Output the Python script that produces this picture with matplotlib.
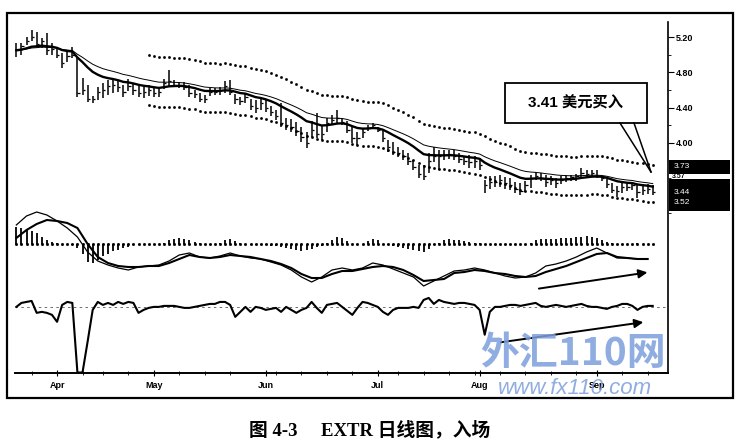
import numpy as np
import pandas as pd
import matplotlib
matplotlib.use("Agg")
import matplotlib.pyplot as plt
from matplotlib.patches import Rectangle

W, H = 737, 446

# trading days shown (US holidays removed)
holidays = ['2006-04-14', '2006-05-29', '2006-07-04', '2006-09-04']
dates = pd.bdate_range('2006-03-22', '2006-09-19')
dates = dates[~dates.isin(pd.to_datetime(holidays))]

high = [5.13, 5.13, 5.20, 5.28, 5.26, 5.19, 5.25, 5.13, 5.08, 5.02,
        5.03, 5.09, 4.96, 4.74, 4.66, 4.53, 4.63, 4.68, 4.71, 4.74,
        4.71, 4.66, 4.72, 4.67, 4.66, 4.63, 4.66, 4.62, 4.62, 4.72,
        4.83, 4.71, 4.69, 4.69, 4.66, 4.60, 4.57, 4.54, 4.62, 4.62,
        4.63, 4.70, 4.71, 4.55, 4.52, 4.57, 4.50, 4.49, 4.52, 4.49,
        4.42, 4.37, 4.45, 4.28, 4.27, 4.24, 4.18, 4.12, 4.25, 4.34,
        4.19, 4.28, 4.32, 4.37, 4.28, 4.25, 4.19, 4.12, 4.17, 4.20,
        4.23, 4.18, 4.15, 4.03, 4.01, 3.95, 3.92, 3.89, 3.81, 3.75,
        3.75, 3.89, 3.95, 3.92, 3.92, 3.92, 3.92, 3.89, 3.84, 3.86,
        3.85, 3.83, 3.58, 3.63, 3.63, 3.64, 3.61, 3.60, 3.56, 3.55,
        3.57, 3.64, 3.67, 3.66, 3.64, 3.63, 3.60, 3.63, 3.64, 3.64,
        3.65, 3.72, 3.69, 3.69, 3.69, 3.63, 3.59, 3.55, 3.51, 3.55,
        3.56, 3.56, 3.52, 3.53, 3.53, 3.52]
low = [4.97, 5.00, 5.11, 5.15, 5.09, 5.08, 5.00, 5.00, 4.96, 4.85,
       4.92, 4.96, 4.52, 4.54, 4.46, 4.45, 4.49, 4.51, 4.54, 4.57,
       4.58, 4.52, 4.59, 4.54, 4.52, 4.51, 4.53, 4.52, 4.52, 4.61,
       4.65, 4.63, 4.62, 4.60, 4.52, 4.51, 4.46, 4.45, 4.53, 4.54,
       4.54, 4.57, 4.54, 4.44, 4.43, 4.45, 4.37, 4.34, 4.37, 4.35,
       4.31, 4.26, 4.18, 4.15, 4.12, 4.08, 4.01, 3.94, 4.07, 4.06,
       4.03, 4.12, 4.21, 4.23, 4.20, 4.11, 4.00, 3.98, 4.06, 4.14,
       4.17, 4.12, 4.01, 3.90, 3.86, 3.84, 3.81, 3.75, 3.69, 3.60,
       3.58, 3.66, 3.78, 3.69, 3.81, 3.82, 3.81, 3.77, 3.75, 3.72,
       3.72, 3.69, 3.43, 3.48, 3.50, 3.50, 3.48, 3.47, 3.43, 3.41,
       3.44, 3.49, 3.58, 3.57, 3.50, 3.52, 3.49, 3.53, 3.56, 3.57,
       3.57, 3.60, 3.60, 3.61, 3.60, 3.57, 3.49, 3.43, 3.39, 3.43,
       3.46, 3.47, 3.38, 3.41, 3.42, 3.41]
close = [5.05, 5.10, 5.16, 5.20, 5.12, 5.15, 5.05, 5.06, 5.00, 4.90,
         4.98, 5.00, 4.56, 4.60, 4.50, 4.50, 4.58, 4.60, 4.65, 4.66,
         4.63, 4.58, 4.65, 4.60, 4.57, 4.58, 4.60, 4.57, 4.58, 4.68,
         4.70, 4.66, 4.66, 4.63, 4.57, 4.55, 4.50, 4.50, 4.58, 4.58,
         4.60, 4.64, 4.58, 4.50, 4.47, 4.52, 4.42, 4.40, 4.45, 4.40,
         4.35, 4.30, 4.22, 4.20, 4.18, 4.13, 4.07, 4.00, 4.15, 4.10,
         4.10, 4.22, 4.26, 4.28, 4.24, 4.15, 4.05, 4.05, 4.12, 4.17,
         4.20, 4.15, 4.05, 3.95, 3.90, 3.88, 3.85, 3.80, 3.73, 3.65,
         3.62, 3.80, 3.85, 3.85, 3.86, 3.87, 3.85, 3.82, 3.80, 3.78,
         3.80, 3.75, 3.52, 3.56, 3.56, 3.58, 3.54, 3.52, 3.48, 3.46,
         3.52, 3.60, 3.62, 3.60, 3.56, 3.58, 3.55, 3.58, 3.60, 3.61,
         3.62, 3.66, 3.65, 3.66, 3.63, 3.60, 3.53, 3.47, 3.45, 3.50,
         3.50, 3.52, 3.44, 3.47, 3.48, 3.44]

# MACD lines, read every second day
macd_line = [0.19, 0.28, 0.32, 0.29, 0.23, 0.16, 0.07, -0.08, -0.17, -0.21,
             -0.24, -0.26, -0.23, -0.22, -0.21, -0.17, -0.11, -0.09, -0.13, -0.14,
             -0.12, -0.09, -0.12, -0.14, -0.15, -0.18, -0.21, -0.26, -0.33, -0.38,
             -0.33, -0.26, -0.24, -0.26, -0.24, -0.19, -0.21, -0.25, -0.29, -0.33,
             -0.42, -0.37, -0.32, -0.27, -0.26, -0.24, -0.26, -0.29, -0.32, -0.34,
             -0.33, -0.29, -0.22, -0.20, -0.17, -0.13, -0.08, -0.04, -0.09, -0.14,
             -0.14, -0.15, -0.15]
macd_signal = [0.06, 0.14, 0.20, 0.24, 0.23, 0.21, 0.16, 0.00, -0.13, -0.19,
               -0.22, -0.23, -0.23, -0.22, -0.22, -0.19, -0.15, -0.11, -0.13, -0.14,
               -0.13, -0.11, -0.12, -0.13, -0.15, -0.17, -0.20, -0.24, -0.30, -0.34,
               -0.34, -0.30, -0.27, -0.27, -0.25, -0.23, -0.22, -0.23, -0.26, -0.31,
               -0.37, -0.36, -0.35, -0.29, -0.28, -0.26, -0.27, -0.29, -0.30, -0.32,
               -0.33, -0.32, -0.28, -0.25, -0.22, -0.18, -0.14, -0.10, -0.09, -0.13,
               -0.14, -0.15, -0.15]
macd_hist = [0.17, 0.16, 0.14, 0.13, 0.11, 0.07, 0.04, 0.02, 0.01, 0.00,
             0.00, -0.01, -0.04, -0.10, -0.18, -0.19, -0.16, -0.12, -0.10, -0.07,
             -0.06, -0.04, -0.03, -0.01, -0.01, 0.00, 0.00, 0.00, 0.00, 0.01,
             0.04, 0.05, 0.06, 0.05, 0.04, 0.02, 0.01, 0.00, -0.01, 0.00,
             0.01, 0.04, 0.05, 0.03, 0.01, 0.00, -0.01, -0.01, -0.01, -0.01,
             -0.02, -0.02, -0.03, -0.04, -0.05, -0.06, -0.07, -0.06, -0.05, -0.03,
             -0.02, 0.01, 0.04, 0.07, 0.06, 0.03, 0.00, -0.01, 0.00, 0.03,
             0.05, 0.04, 0.00, -0.01, -0.02, -0.03, -0.04, -0.05, -0.06, -0.07,
             -0.08, -0.05, -0.01, 0.01, 0.04, 0.05, 0.04, 0.04, 0.03, 0.02,
             0.01, 0.01, 0.00, 0.00, -0.01, -0.01, -0.01, -0.01, -0.01, 0.00,
             0.00, 0.01, 0.04, 0.05, 0.05, 0.05, 0.05, 0.06, 0.06, 0.06,
             0.07, 0.07, 0.08, 0.07, 0.06, 0.04, 0.02, 0.01, 0.00, -0.01,
             0.00, 0.00, 0.01, 0.00, 0.00, 0.00]
force = [0.00, 0.04, 0.05, 0.06, -0.06, -0.05, -0.06, -0.08, -0.15, 0.02,
         0.05, 0.04, -0.66, -0.66, -0.35, -0.03, 0.05, 0.02, 0.04, 0.02,
         0.05, 0.03, 0.05, 0.04, -0.06, -0.03, -0.01, 0.00, 0.00, 0.01,
         0.01, 0.01, 0.00, -0.01, -0.01, 0.00, 0.01, 0.02, 0.03, 0.03,
         0.05, 0.05, 0.02, -0.10, -0.05, 0.00, -0.05, 0.00, -0.01, -0.03,
         -0.02, -0.01, -0.05, 0.00, -0.03, -0.06, -0.03, -0.01, 0.05, -0.01,
         -0.06, 0.02, 0.03, 0.04, 0.00, -0.04, -0.08, -0.01, 0.05, 0.04,
         0.02, 0.00, -0.05, -0.08, -0.03, -0.01, -0.01, -0.01, 0.00, -0.01,
         0.07, 0.09, 0.03, 0.07, 0.05, 0.04, 0.03, 0.04, 0.04, 0.03,
         0.02, -0.03, -0.28, -0.05, 0.00, 0.00, 0.01, 0.02, 0.02, 0.01,
         0.02, 0.03, 0.04, 0.01, 0.00, 0.01, 0.02, 0.01, 0.00, 0.01,
         0.02, 0.03, 0.01, 0.00, 0.00, -0.01, -0.02, 0.00, 0.01, 0.03,
         0.03, 0.01, -0.03, 0.00, 0.01, 0.01]

price_ticks = [4.00, 4.40, 4.80, 5.20]
right_labels = ['3.73', '3.44', '3.52']

x = np.arange(len(dates))
close_s = pd.Series(close)
ema_fast = close_s.ewm(span=13, adjust=False).mean()
ema_slow = close_s.ewm(span=22, adjust=False).mean()
env_start = 26


def px_axes(fig, left, top, right, bottom):
    return fig.add_axes([left / W, 1 - bottom / H, (right - left) / W, (bottom - top) / H])


fig = plt.figure(figsize=(W / 100, H / 100), dpi=100)
XLIM = (-0.26, 128.0)

# frame with time axis
axf = px_axes(fig, 15, 22, 668, 373)
axf.set_xlim(XLIM)
axf.set_ylim(0, 1)
axf.patch.set_alpha(0)
for s in ['top', 'left']:
    axf.spines[s].set_visible(False)
axf.spines['right'].set_linewidth(1.2)
axf.spines['bottom'].set_linewidth(1.4)
axf.set_yticks([])
month_pos = [i for i in range(1, len(dates)) if dates[i].month != dates[i - 1].month]
axf.set_xticks(month_pos)
axf.set_xticklabels([dates[i].strftime('%b') for i in month_pos],
                    fontsize=6.5, fontweight='bold', family='Liberation Sans')
week_pos = [i for i in range(len(dates)) if dates[i].weekday() == 0]
axf.set_xticks(week_pos, minor=True)
axf.tick_params(axis='x', which='major', direction='inout', length=4, width=0.8, pad=4)
axf.tick_params(axis='x', which='minor', direction='inout', length=3, width=0.6)

# price panel
axp = px_axes(fig, 15, 13, 668, 215)
axp.set_xlim(XLIM)
axp.set_ylim(3.183, 5.472)
axp.patch.set_alpha(0)
for s in axp.spines.values():
    s.set_visible(False)
axp.set_xticks([])
axp.yaxis.tick_right()
axp.set_yticks(price_ticks)
axp.set_yticklabels(['%.2f' % v for v in price_ticks], fontsize=6.5,
                    fontweight='bold', family='Liberation Sans')
axp.set_yticks([3.20, 3.60, 3.80, 4.20, 4.60, 5.00], minor=True)
axp.tick_params(axis='y', which='major', length=4, width=0.8, pad=1.5)
axp.tick_params(axis='y', which='minor', length=2.5, width=0.6)

axp.vlines(x, low, high, color='black', lw=1.1)
axp.hlines(close, x, x + 0.45, color='black', lw=0.9)
axp.plot(x, ema_fast, color='black', lw=1.7)
axp.plot(x, ema_slow, color='black', lw=0.7)
axp.plot(x[env_start:], ema_slow[env_start:] * 1.06, ls='none', marker='s', ms=0.9, color='black')
axp.plot(x[env_start:], ema_slow[env_start:] * 0.94, ls='none', marker='s', ms=0.9, color='black')

# MACD panel
axm = px_axes(fig, 15, 205, 668, 295)
axm.set_xlim(XLIM)
axm.set_ylim(-0.51, 0.39)
axm.axis('off')
axm.vlines(x, 0, macd_hist, color='black', lw=1.3)
axm.plot(x, np.zeros(len(x)), ls='none', marker='s', ms=1.0, color='black')
xm = np.arange(0, len(dates), 2)
axm.plot(xm, macd_line, color='black', lw=0.9)
axm.plot(xm, macd_signal, color='black', lw=1.5)
axm.annotate('', xy=(124.5, -0.28), xytext=(102.1, -0.45),
             arrowprops=dict(arrowstyle='-|>', lw=1.4, color='black', mutation_scale=13))

# force index panel
axo = px_axes(fig, 15, 290, 668, 373)
axo.set_xlim(XLIM)
axo.set_ylim(-0.665, 0.17)
axo.axis('off')
axo.axhline(0, color='#555555', lw=0.6, ls=(0, (3, 4)))
axo.plot(x, force, color='black', lw=1.5)
axo.annotate('', xy=(123.7, -0.15), xytext=(94.6, -0.36),
             arrowprops=dict(arrowstyle='-|>', lw=1.4, color='black', mutation_scale=13))

# overlay in pixel units: frame, call-out, price boxes, caption, watermark
ov = fig.add_axes([0, 0, 1, 1], zorder=5)
ov.set_xlim(0, W)
ov.set_ylim(H, 0)
ov.axis('off')
ov.patch.set_alpha(0)
ov.add_patch(Rectangle((7, 13), 726, 385, fill=False, lw=1.6, ec='black'))

ov.add_patch(Rectangle((505, 83), 142, 40, fc='white', ec='black', lw=1.3))
ov.plot([620, 651], [123, 172], color='black', lw=1.1)
ov.plot([634, 651], [123, 172], color='black', lw=1.1)
ov.text(576, 103, '3.41 美元买入', fontsize=11, fontweight='bold', ha='center', va='center',
        family=['Liberation Sans', 'Noto Sans CJK SC'])

ov.add_patch(Rectangle((669, 160), 61, 14, fc='black', ec='none'))
ov.add_patch(Rectangle((669, 179), 61, 32, fc='black', ec='none'))
ov.text(674, 167, right_labels[0], color='white', fontsize=6, va='center', family='Liberation Sans')
ov.text(672, 176.5, '3.57', color='black', fontsize=5, va='center', fontweight='bold',
        family='Liberation Sans')
ov.text(674, 193, right_labels[1], color='white', fontsize=6, va='center', family='Liberation Sans')
ov.text(674, 203, right_labels[2], color='white', fontsize=6, va='center', family='Liberation Sans')

ov.text(573, 354, '外汇110网', fontsize=28, fontweight='heavy', color='#7d9fdc', alpha=0.85,
        ha='center', va='center', family=['Noto Sans CJK SC'])
ov.text(575, 388, 'www.fx110.com', fontsize=16, style='italic', color='#7d9fdc', alpha=0.85,
        ha='center', va='center', family='Liberation Sans')

ov.text(370, 430, '图 4-3\u3000 EXTR 日线图，入场', fontsize=13.5, fontweight='bold',
        ha='center', va='center', family=['Liberation Serif', 'Noto Sans CJK SC'])

fig.savefig('out.png', dpi=100)
